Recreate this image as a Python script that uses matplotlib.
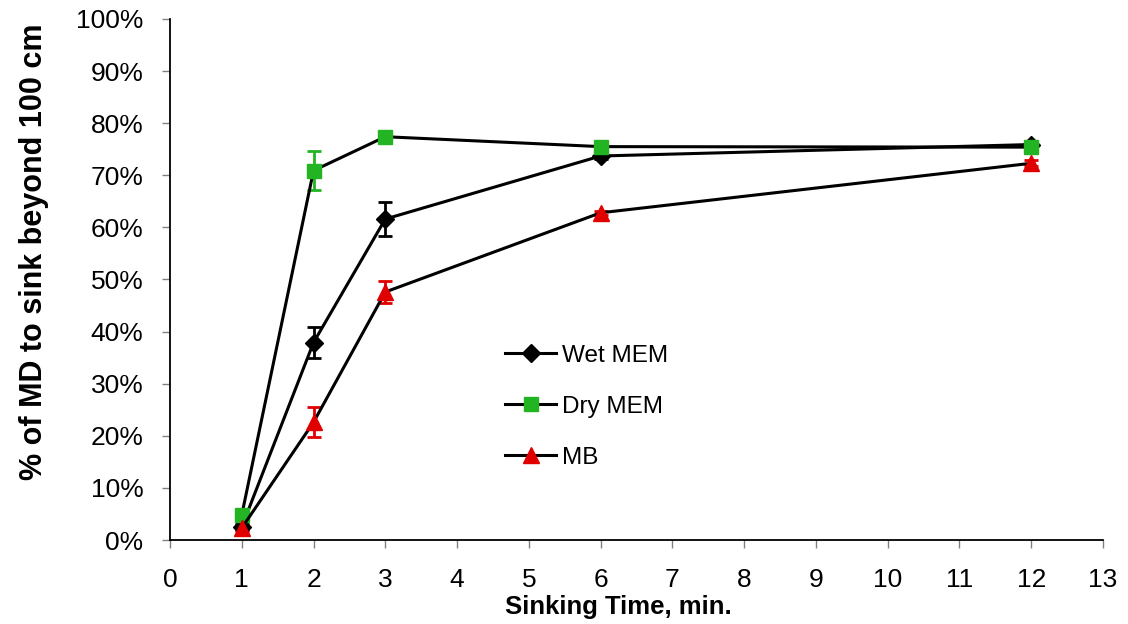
import matplotlib
matplotlib.use("Agg")
import matplotlib.pyplot as plt
from matplotlib.ticker import PercentFormatter

plt.rcParams["font.family"] = ["Liberation Sans", "DejaVu Sans"]

# ---- data ----
times = [1, 2, 3, 6, 12]
wet_mem = [2.5, 37.9, 61.6, 73.7, 75.9]
wet_err = [0.5, 2.9, 3.2, 0.6, 0.5]
dry_mem = [4.8, 70.9, 77.4, 75.5, 75.4]
dry_err = [0.8, 3.7, 0.4, 0.5, 0.5]
mb = [2.3, 22.6, 47.6, 62.8, 72.3]
mb_err = [0.5, 2.9, 2.1, 0.4, 0.6]

series = [
    ("Wet MEM", wet_mem, wet_err, "D", "black", 9),
    ("Dry MEM", dry_mem, dry_err, "s", "#22b422", 10),
    ("MB", mb, mb_err, "^", "#e00000", 11),
]

fig = plt.figure(figsize=(11.28, 6.24), dpi=100)
ax = fig.add_axes([0.1507, 0.1346, 0.8271, 0.835])

for name, vals, err, mk, col, ms in series:
    ax.errorbar(times, vals, yerr=err, fmt="none", ecolor=col,
                elinewidth=2, capsize=5, capthick=2, zorder=2)
    ax.plot(times, vals, color="black", lw=2.2, marker=mk, ms=ms,
            mfc=col, mec=col, label=name, zorder=3)

ax.set_xlim(0, 13)
ax.set_ylim(0, 100)
ax.set_xticks(range(0, 14))
ax.set_yticks(range(0, 101, 10))
ax.yaxis.set_major_formatter(PercentFormatter(decimals=0))
ax.tick_params(direction="out", length=6, width=1, color="#808080",
               labelsize=19)
ax.tick_params(axis="x", pad=14)
ax.tick_params(axis="y", pad=13)
for s in ["top", "right"]:
    ax.spines[s].set_visible(False)
for s in ["left", "bottom"]:
    ax.spines[s].set_linewidth(1.3)

ax.set_xlabel("Sinking Time, min.", fontsize=18.5, fontweight="bold",
              va="center")
ax.xaxis.set_label_coords(0.481, -0.129)
ax.set_ylabel("% of MD to sink beyond 100 cm", fontsize=22, fontweight="bold",
              va="center")
ax.yaxis.set_label_coords(-0.146, 0.553)

leg = ax.legend(loc="upper left", bbox_to_anchor=(0.336, 0.417), frameon=False,
                fontsize=17.5, handlelength=2.1, labelspacing=1.2,
                handletextpad=0.25)

fig.savefig("out.png", dpi=100, facecolor="white")
